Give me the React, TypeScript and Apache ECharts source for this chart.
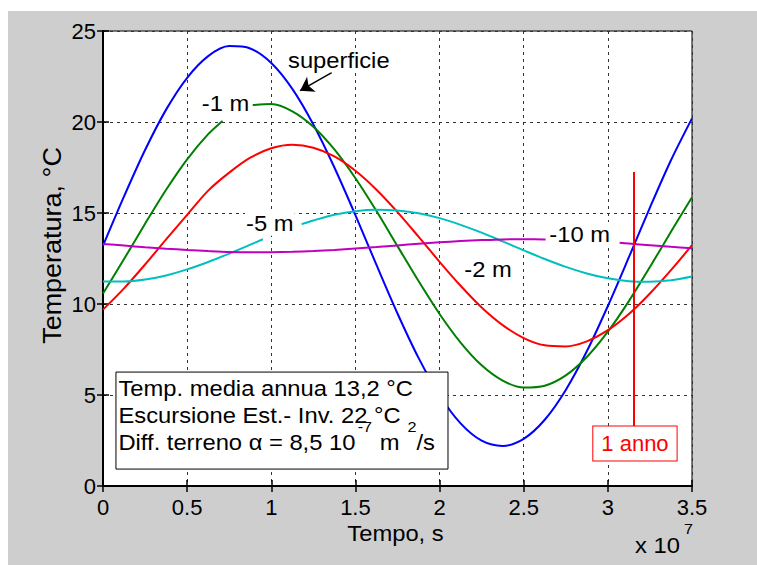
import { useEffect, useRef } from 'react';
import * as echarts from 'echarts';

const FONT = '"Liberation Sans", Arial, Helvetica, sans-serif';

// time axis, units of 1e7 s
const timeValues = [
  0, 0.125, 0.25, 0.375, 0.5, 0.625, 0.75, 0.875, 1, 1.125, 1.25, 1.375, 1.5, 1.625, 1.75,
  1.875, 2, 2.125, 2.25, 2.375, 2.5, 2.625, 2.75, 2.875, 3, 3.125, 3.25, 3.375, 3.5,
];
// temperatures (°C)
const surfaceTemp = [
  13.2, 15.91, 18.46, 20.68, 22.43, 23.62, 24.17, 24.04, 23.24, 21.82, 19.86, 17.5, 14.88, 12.15, 9.48,
  7.04, 4.99, 3.44, 2.49, 2.2, 2.59, 3.64, 5.28, 7.4, 9.89, 12.57, 15.3, 17.9, 20.2,
];
const depth1Temp = [
  10.58, 12.47, 14.41, 16.28, 17.95, 19.33, 20.33, 20.9, 20.99, 20.59, 19.74, 18.49, 16.91, 15.11, 13.18,
  11.26, 9.45, 7.88, 6.63, 5.79, 5.41, 5.51, 6.08, 7.09, 8.48, 10.16, 12.03, 13.97, 15.86,
];
const depth2Temp = [
  9.69, 10.86, 12.17, 13.55, 14.9, 16.23, 17.22, 18.04, 18.56, 18.75, 18.59, 18.11, 17.32, 16.28, 15.05,
  13.7, 12.32, 11.0, 9.81, 8.84, 8.13, 7.73, 7.67, 7.95, 8.56, 9.45, 10.58, 11.86, 13.23,
];
const depth5Temp = [
  11.23, 11.23, 11.34, 11.57, 11.9, 12.31, 12.77, 13.26, 13.75, 14.2, 14.59, 14.9, 15.1, 15.18, 15.14,
  14.99, 14.72, 14.35, 13.92, 13.44, 12.95, 12.47, 12.04, 11.68, 11.41, 11.25, 11.22, 11.3, 11.51,
];
const depth10Temp = [
  13.3, 13.21, 13.12, 13.04, 12.97, 12.91, 12.86, 12.84, 12.85, 12.87, 12.91, 12.97, 13.05, 13.13, 13.22,
  13.31, 13.39, 13.46, 13.51, 13.55, 13.56, 13.55, 13.52, 13.47, 13.4, 13.32, 13.23, 13.14, 13.06,
];

// where a depth label interrupts its curve: [time, temperature] at both ends of the break
const depth1Break = [[0.71, 20.06], [0.89, 20.93]];
const depth5Break = [[0.95, 13.56], [1.18, 14.39]];
const depth10Break = [[2.63, 13.55], [3.07, 13.36]];

const xMin = 0, xMax = 3.5, xStep = 0.5;
const yMin = 0, yMax = 25, yStep = 5;

const oneYear = 3.1536; // 1 year in 1e7 s
const yearLineRange = [17.25, 3.3];
const yearLabelAt = [3.161, 2.335];

const curveLabels = [
  { text: 'superficie', at: [1.093, 23.39] },
  { text: '-1 m', at: [0.581, 21.0] },
  { text: '-2 m', at: [2.141, 11.9] },
  { text: '-5 m', at: [0.844, 14.41] },
  { text: '-10 m', at: [2.646, 13.84] },
];
const arrowFrom = [1.359, 22.71];
const arrowTo = [1.171, 21.72];
const infoBox = [[0.077, 6.26], [2.05, 0.93]];
// each line: pieces of [text, isSuperscript, gap before]
type Piece = [string, boolean, number];
const infoLines: Piece[][] = [
  [['Temp. media annua 13,2 °C', false, 0]],
  [['Escursione Est.- Inv. 22 °C', false, 0]],
  [['Diff. terreno α = 8,5 10', false, 0], ['-7', true, 2], [' m', false, 1], ['2', true, 8], ['/s', false, 0]],
];
const exponentLabel: Piece[] = [['x 10', false, 0], ['7', true, 4]];

const pairs = (vals: number[]) => timeValues.map((t, i) => [t, vals[i]]);
const splitAt = (vals: number[], brk: number[][]) => {
  const p = pairs(vals);
  return [
    [...p.filter((d) => d[0] < brk[0][0]), brk[0]],
    [brk[1], ...p.filter((d) => d[0] > brk[1][0])],
  ];
};

const lineSeries = (data: number[][], color: string, extra: any = {}) => ({
  type: 'line',
  data,
  smooth: 0.3,
  symbol: 'none',
  showSymbol: false,
  silent: true,
  lineStyle: { color, width: 2 },
  itemStyle: { color },
  z: 3,
  ...extra,
});

const axisLine = { show: true, lineStyle: { color: '#000', width: 2 } };
const axisTick = { show: true, inside: true, length: 6, lineStyle: { color: '#000', width: 1.5 } };
const gridLine = { show: true, lineStyle: { color: '#333', type: [3, 4], width: 1 } };
const tickFont = { color: '#000', fontSize: 22, fontFamily: FONT };
const TEXT_SIZE = 22;
const SUP_SIZE = 15;
const YLABEL_SIZE = 25;
const STRETCH = 1.08;

export default function App() {
  const ref = useRef<HTMLDivElement>(null);
  useEffect(() => {
    const chart = echarts.init(ref.current!, undefined, { renderer: 'svg' });
    const [g1a, g1b] = splitAt(depth1Temp, depth1Break);
    const [g5a, g5b] = splitAt(depth5Temp, depth5Break);
    const [g10a, g10b] = splitAt(depth10Temp, depth10Break);
    chart.setOption({
      animation: false,
      textStyle: { fontFamily: FONT },
      grid: { left: 95, top: 20, right: 65, bottom: 79, show: true, backgroundColor: '#fff', borderColor: '#000', borderWidth: 1 },
      xAxis: [
        {
          type: 'value', min: xMin, max: xMax, interval: xStep, position: 'bottom',
          axisLine, axisTick, splitLine: gridLine,
          axisLabel: { ...tickFont, margin: 10, showMinLabel: true, showMaxLabel: true },
        },
        {
          type: 'value', min: xMin, max: xMax, interval: xStep, position: 'top',
          axisLine, axisTick, splitLine: { show: false }, axisLabel: { show: false },
        },
      ],
      yAxis: [
        {
          type: 'value', min: yMin, max: yMax, interval: yStep, position: 'left',
          axisLine, axisTick, splitLine: gridLine,
          axisLabel: { ...tickFont, margin: 7, showMinLabel: true, showMaxLabel: true },
        },
        {
          type: 'value', min: yMin, max: yMax, interval: yStep, position: 'right',
          axisLine, axisTick, splitLine: { show: false }, axisLabel: { show: false },
        },
      ],
      series: [
        lineSeries(pairs(surfaceTemp), '#0000ff', {
          markLine: {
            silent: true, symbol: ['none', 'arrow'], symbolSize: 13,
            label: { show: false },
            lineStyle: { color: '#000', width: 1.5, type: 'solid' },
            itemStyle: { color: '#000' },
            data: [[{ coord: arrowFrom }, { coord: arrowTo }]],
          },
        }),
        lineSeries(g1a, '#008000'),
        lineSeries(g1b, '#008000'),
        lineSeries(pairs(depth2Temp), '#ff0000', {
          markLine: {
            silent: true, symbol: 'none',
            label: { show: false },
            lineStyle: { color: '#ff0000', width: 2, type: 'solid' },
            data: [[{ coord: [oneYear, yearLineRange[0]] }, { coord: [oneYear, yearLineRange[1]] }]],
          },
        }),
        lineSeries(g5a, '#00bfbf'),
        lineSeries(g5b, '#00bfbf'),
        lineSeries(g10a, '#bf00bf'),
        lineSeries(g10b, '#bf00bf'),
      ],
    });

    const ctx = document.createElement('canvas').getContext('2d')!;
    const measure = (t: string, size: number) => {
      ctx.font = `${size}px ${FONT}`;
      return ctx.measureText(t).width * STRETCH;
    };
    const px = (v: number[]) => chart.convertToPixel({ gridIndex: 0 }, v) as number[];
    const base = { fill: '#000', fontSize: TEXT_SIZE, fontFamily: FONT };
    const els: any[] = [];

    const pieces = (parts: Piece[], x0: number, y: number) => {
      let x = x0;
      parts.forEach(([t, isSup, gap]) => {
        const size = isSup ? SUP_SIZE : TEXT_SIZE;
        x += gap;
        els.push({
          type: 'text', x, y: isSup ? y - 16 : y, z: 101, silent: true, scaleX: STRETCH,
          style: { ...base, fontSize: size, text: t, align: 'left', verticalAlign: 'middle' },
        });
        x += measure(t, size);
      });
    };

    curveLabels.forEach((l) => {
      const [x, y] = px(l.at);
      els.push({
        type: 'text', x, y, z: 100, silent: true, scaleX: STRETCH,
        style: { ...base, text: l.text, align: 'left', verticalAlign: 'middle', backgroundColor: '#fff', padding: [1, 1] },
      });
    });

    const [bx0, by0] = px(infoBox[0]);
    const [bx1, by1] = px(infoBox[1]);
    els.push({
      type: 'rect', z: 100, silent: true,
      shape: { x: bx0, y: by0, width: bx1 - bx0, height: by1 - by0 },
      style: { fill: '#fff', stroke: '#000', lineWidth: 1 },
    });
    const lineOffsets = [16.7, 43, 70.6];
    infoLines.forEach((parts, i) => pieces(parts, bx0 + 2.5, by0 + lineOffsets[i]));

    const [yx, yy] = px(yearLabelAt);
    els.push({
      type: 'text', x: yx, y: yy, z: 101, silent: true,
      style: {
        ...base, fill: '#ff0000', text: '1 anno', align: 'center', verticalAlign: 'middle',
        backgroundColor: '#fff', borderColor: '#ff0000', borderWidth: 1, padding: [6, 8],
      },
    });

    const [plotL, plotB] = px([xMin, yMin]);
    const [plotR, plotT] = px([xMax, yMax]);
    pieces(exponentLabel, plotR - 57, plotB + 59);
    els.push({
      type: 'text', x: (plotL + plotR) / 2 - 2, y: plotB + 47, z: 100, silent: true, scaleX: STRETCH,
      style: { ...base, text: 'Tempo, s', align: 'center', verticalAlign: 'middle' },
    });
    els.push({
      type: 'text', x: plotL - 51, y: (plotT + plotB) / 2 - 13, z: 100, silent: true,
      rotation: Math.PI / 2, scaleX: STRETCH,
      style: { ...base, fontSize: YLABEL_SIZE, text: 'Temperatura, °C', align: 'center', verticalAlign: 'middle' },
    });

    chart.setOption({ graphic: els });
    return () => chart.dispose();
  }, []);

  return (
    <div style={{ position: 'fixed', left: 0, top: 0, width: 757, height: 565, background: '#fff' }}>
      <div ref={ref} style={{ position: 'absolute', left: 8, top: 11, width: 749, height: 554, background: '#cecece' }} />
    </div>
  );
}
